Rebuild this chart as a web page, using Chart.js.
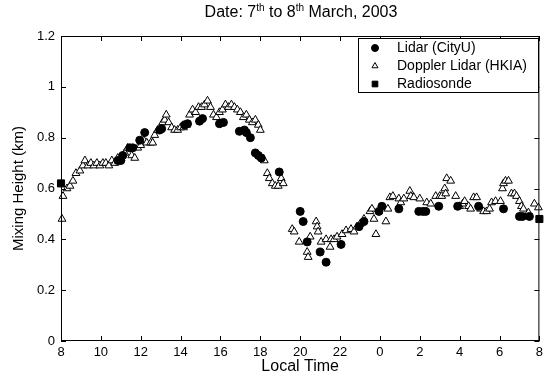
<!DOCTYPE html>
<html>
<head>
<meta charset="utf-8">
<script src="https://cdn.jsdelivr.net/npm/chart.js@4.4.0/dist/chart.umd.min.js"></script>
<style>
  html, body { margin: 0; padding: 0; background: #fff; }
  #wrap { position: relative; width: 547px; height: 380px; }
  #title {
    position: absolute; left: 61px; width: 480px; top: 2px;
    text-align: center; color: #000;
    font: 16px "Liberation Sans", Arial, sans-serif;
  }
  #title sup { font-size: 10px; }
</style>
</head>
<body>
<div id="wrap">
  <canvas id="chart" width="547" height="380"></canvas>
  <div id="title">Date: 7<sup>th</sup> to 8<sup>th</sup> March, 2003</div>
</div>
<script>
// hours counted from midnight of 7 March, so 32 = 08:00 on 8 March
const dopplerTime = [
  8.05, 8.1, 8.3, 8.45, 8.6, 8.75, 8.95, 9.1, 9.2, 9.35, 9.5, 9.65, 9.8, 9.95,
  10.1, 10.25, 10.4, 10.55, 10.7, 10.85, 11.0, 11.2, 11.35, 11.55, 11.7, 11.85,
  12.0, 12.15, 12.3, 12.5, 12.6, 12.7, 12.85, 13.0, 13.1, 13.2, 13.28, 13.4,
  13.55, 13.7, 13.85, 14.0, 14.15, 14.3, 14.45, 14.6, 14.75, 14.9, 15.05, 15.2,
  15.35, 15.5, 15.65, 15.8, 15.95, 16.1, 16.25, 16.4, 16.55, 16.7, 16.85, 17.0,
  17.15, 17.3, 17.45, 17.6, 17.75, 17.9, 18.0, 18.2, 18.35, 18.45, 18.6, 18.75,
  18.9, 19.05, 19.15, 19.6, 19.7, 19.95, 20.35, 20.4, 20.5, 20.8, 20.85, 20.9,
  21.05, 21.3, 21.5, 21.55, 21.7, 21.85, 22.1, 22.3, 22.55, 22.7, 22.85, 23.0,
  23.2, 23.5, 23.6, 23.7, 23.8, 24.3, 24.4, 24.5, 24.65, 24.95, 25.05, 25.2,
  25.5, 25.55, 25.7, 26.0, 26.35, 26.55, 26.8, 27.0, 27.1, 27.25, 27.3, 27.35,
  27.55, 27.8, 28.0, 28.15, 28.25, 28.45, 28.55, 28.7, 28.85, 29.05, 29.2, 29.35,
  29.5, 29.6, 29.8, 30.05, 30.15, 30.2, 30.3, 30.45, 30.6, 30.75, 30.85, 31.0,
  31.1, 31.2, 31.45, 31.75, 31.95
];
const dopplerHeight = [
  0.48, 0.57, 0.60, 0.61, 0.63, 0.66, 0.67, 0.69, 0.71, 0.69, 0.70, 0.69, 0.70, 0.69,
  0.70, 0.70, 0.69, 0.71, 0.70, 0.72, 0.72, 0.74, 0.76, 0.73, 0.72, 0.76,
  0.77, 0.79, 0.78, 0.78, 0.78, 0.81, 0.83, 0.84, 0.86, 0.87, 0.89, 0.86,
  0.84, 0.83, 0.83, 0.84, 0.84, 0.85, 0.89, 0.91, 0.90, 0.92, 0.92, 0.93,
  0.945, 0.92, 0.89, 0.88, 0.90, 0.91, 0.93, 0.92, 0.93, 0.92, 0.91, 0.90,
  0.88, 0.89, 0.87, 0.86, 0.87, 0.85, 0.83, 0.71, 0.66, 0.64, 0.62, 0.61,
  0.61, 0.64, 0.62, 0.44, 0.43, 0.39, 0.35, 0.33, 0.41, 0.47, 0.45, 0.43,
  0.39, 0.40, 0.37, 0.40, 0.40, 0.41, 0.42, 0.435, 0.44, 0.43, 0.45, 0.46,
  0.48, 0.51, 0.52, 0.48, 0.42, 0.47, 0.52, 0.565, 0.57, 0.56, 0.545, 0.56,
  0.59, 0.57, 0.565, 0.56, 0.545, 0.54, 0.57, 0.57, 0.57, 0.60, 0.58, 0.64,
  0.63, 0.57, 0.53, 0.54, 0.55, 0.53, 0.52, 0.565, 0.565, 0.52, 0.51, 0.51,
  0.52, 0.545, 0.55, 0.55, 0.60, 0.62, 0.63, 0.63, 0.58, 0.58, 0.57, 0.55,
  0.53, 0.52, 0.505, 0.54, 0.525
];

const lidarTime = [
  10.85, 11.0, 11.1, 11.45, 11.6, 11.95, 12.2, 12.95, 13.05, 14.2, 14.35, 14.95,
  15.1, 15.95, 16.15, 16.95, 17.2, 17.3, 17.5, 17.75, 17.9, 18.05, 18.95, 20.0,
  20.15, 20.35, 21.0, 21.3, 22.05, 22.95, 23.2, 23.95, 24.1, 24.95, 25.95, 26.15,
  26.3, 26.95, 27.9, 28.95, 30.2, 31.0, 31.15, 31.5
];
const lidarHeight = [
  0.71, 0.71, 0.73, 0.76, 0.76, 0.79, 0.82, 0.83, 0.835, 0.85, 0.855, 0.865,
  0.875, 0.855, 0.86, 0.825, 0.83, 0.82, 0.80, 0.74, 0.73, 0.72, 0.665, 0.51,
  0.47, 0.39, 0.35, 0.31, 0.38, 0.45, 0.47, 0.51, 0.53, 0.52, 0.51, 0.51,
  0.51, 0.53, 0.53, 0.53, 0.52, 0.49, 0.49, 0.49
];

const sondeTime = [8, 32];
const sondeHeight = [0.62, 0.48];

const seriesNames = ["Lidar (CityU)", "Doppler Lidar (HKIA)", "Radiosonde"];

const FONT = '"Liberation Sans", Arial, sans-serif';
const pts = (xs, ys) => xs.map((x, i) => ({ x: x, y: ys[i] }));

const frame = {
  id: "frame",
  afterDraw(chart) {
    const { ctx, chartArea: a, scales } = chart;
    ctx.save();
    ctx.strokeStyle = "#000";
    ctx.lineWidth = 1;
    ctx.strokeRect(a.left + 0.5, a.top + 0.5, a.right - a.left - 1, a.bottom - a.top - 1);

    // inward ticks on all four sides
    ctx.beginPath();
    scales.x.ticks.forEach(t => {
      const px = Math.round(scales.x.getPixelForValue(t.value)) + 0.5;
      ctx.moveTo(px, a.bottom); ctx.lineTo(px, a.bottom - 5);
      ctx.moveTo(px, a.top); ctx.lineTo(px, a.top + 5);
    });
    scales.y.ticks.forEach(t => {
      const py = Math.round(scales.y.getPixelForValue(t.value)) + 0.5;
      ctx.moveTo(a.left, py); ctx.lineTo(a.left + 5, py);
      ctx.moveTo(a.right, py); ctx.lineTo(a.right - 5, py);
    });
    ctx.stroke();

    // axis titles
    ctx.fillStyle = "#000";
    ctx.font = "16px " + FONT;
    ctx.textAlign = "center";
    ctx.textBaseline = "middle";
    ctx.fillText("Local Time", (a.left + a.right) / 2, 367);
    ctx.save();
    ctx.translate(19, (a.top + a.bottom) / 2);
    ctx.rotate(-Math.PI / 2);
    ctx.font = "15px " + FONT;
    ctx.fillText("Mixing Height (km)", 0, 0);
    ctx.restore();

    // legend box
    const lx = 358, ly = 38, lw = 181, lh = 55;
    ctx.fillStyle = "#fff";
    ctx.fillRect(lx, ly, lw, lh);
    ctx.strokeRect(lx + 0.5, ly + 0.5, lw - 1, lh - 1);
    const styles = [
      { pointStyle: "circle", radius: 3.5, fill: "#000" },
      { pointStyle: "triangle", radius: 3.5, fill: "#fff" },
      { pointStyle: "rect", radius: 4, fill: "#000" }
    ];
    ctx.font = "14px " + FONT;
    ctx.textAlign = "left";
    seriesNames.forEach((name, i) => {
      const y = 48 + i * 18;
      const s = styles[i];
      ctx.fillStyle = s.fill;
      ctx.strokeStyle = "#000";
      ctx.lineWidth = 1;
      Chart.helpers.drawPoint(ctx, { pointStyle: s.pointStyle, radius: s.radius, rotation: 0, borderWidth: 1 }, 375, y);
      ctx.fillStyle = "#000";
      ctx.fillText(name, 397, y);
    });
    ctx.restore();
  }
};

new Chart(document.getElementById("chart"), {
  type: "scatter",
  data: {
    datasets: [
      {
        label: seriesNames[1],
        data: pts(dopplerTime, dopplerHeight),
        pointStyle: "triangle",
        pointRadius: 4.5,
        backgroundColor: "#fff",
        borderColor: "#000",
        borderWidth: 1,
        order: 3
      },
      {
        label: seriesNames[0],
        data: pts(lidarTime, lidarHeight),
        pointStyle: "circle",
        pointRadius: 4,
        backgroundColor: "#000",
        borderColor: "#000",
        borderWidth: 1,
        order: 2
      },
      {
        label: seriesNames[2],
        data: pts(sondeTime, sondeHeight),
        pointStyle: "rect",
        pointRadius: 5,
        backgroundColor: "#000",
        borderColor: "#000",
        borderWidth: 1,
        order: 1
      }
    ]
  },
  options: {
    responsive: false,
    animation: false,
    events: [],
    clip: false,
    layout: { padding: { top: 36, right: 6, left: 0, bottom: 0 } },
    plugins: {
      legend: { display: false },
      title: { display: false },
      tooltip: { enabled: false }
    },
    scales: {
      x: {
        type: "linear",
        min: 8, max: 32,
        grid: { display: false, drawTicks: false },
        border: { display: false },
        afterFit: s => { s.height = 39; },
        ticks: {
          stepSize: 2, padding: 4, color: "#000",
          font: { family: FONT, size: 13 },
          callback: v => v % 24
        }
      },
      y: {
        min: 0, max: 1.2,
        grid: { display: false, drawTicks: false },
        border: { display: false },
        afterFit: s => { s.width = 61; },
        ticks: {
          stepSize: 0.2, padding: 6, color: "#000",
          font: { family: FONT, size: 13 },
          callback: v => String(Math.round(v * 10) / 10)
        }
      }
    }
  },
  plugins: [frame]
});
</script>
</body>
</html>
